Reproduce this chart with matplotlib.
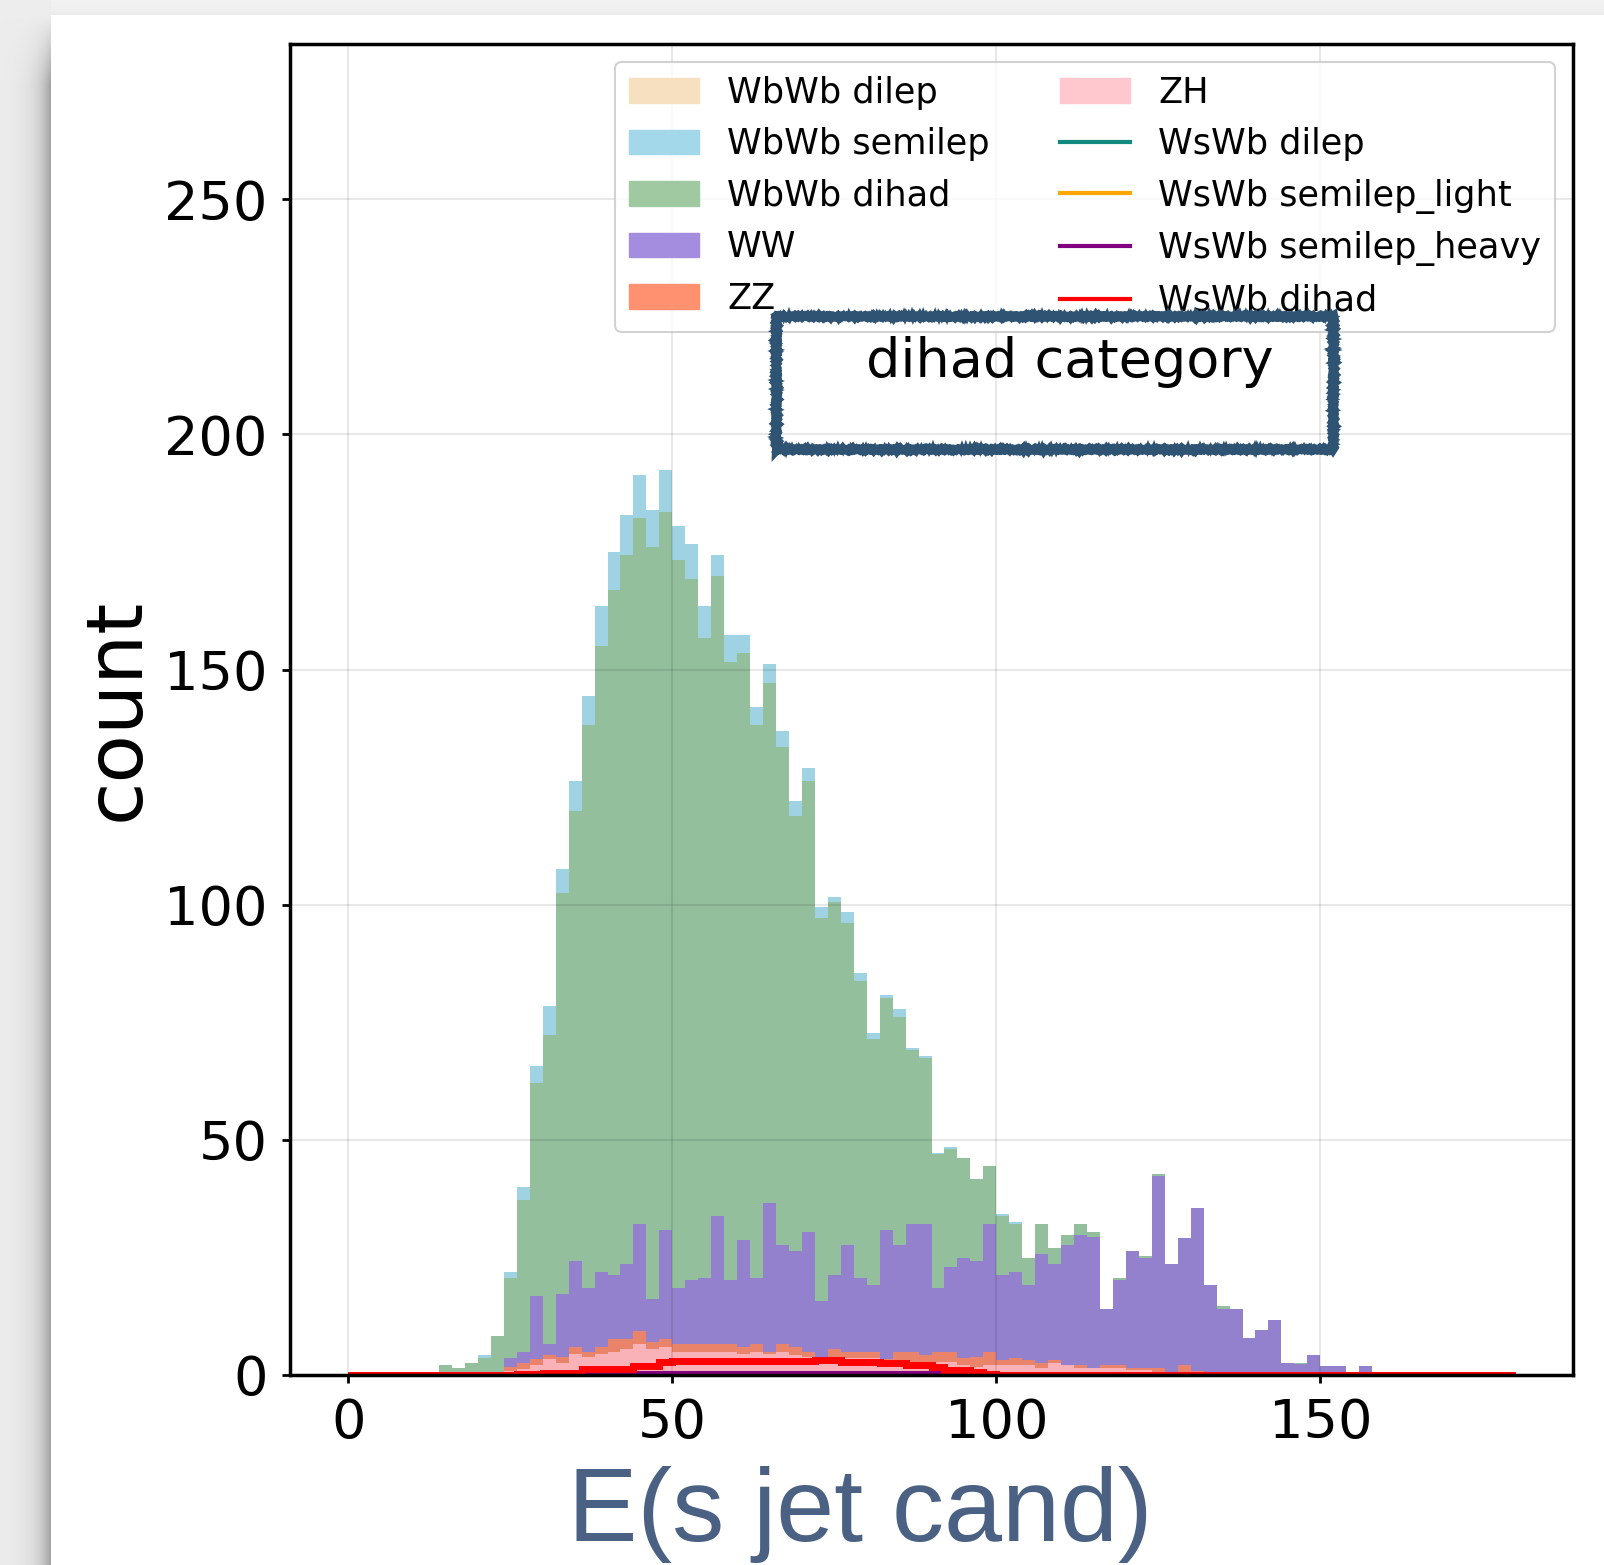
import matplotlib
matplotlib.use("Agg")
import matplotlib.pyplot as plt
from matplotlib.patches import Patch
from matplotlib.lines import Line2D
import numpy as np

# 90 bins of 2 GeV between 0 and 180
bin_edges = np.linspace(0, 180, 91)

# stacked backgrounds, counts per bin
zh = [0, 0, 0, 0, 0, 0, 0, 0, 0, 0,
      0, 0, 0.9, 1.3, 2.2, 3.3, 2.6, 4.5, 3.8, 4.5,
      4.9, 5.6, 6.5, 5.6, 5.9, 4.9, 4.9, 4.9, 4.9, 4.9,
      4.4, 4.9, 4.4, 4.9, 4.2, 3.8, 3.6, 3.6, 3.6, 3.6,
      3.6, 3.2, 3.2, 2.8, 2.8, 2.8, 2.8, 2.1, 1.8, 2.1,
      2.1, 2.1, 2.1, 1.5, 2.6, 2.1, 1.5, 1.4, 1.4, 1.4,
      1.0, 1.0, 0, 0, 0, 0, 0, 0, 0, 0,
      0, 0, 0, 0, 0, 0, 0, 0, 0, 0,
      0, 0, 0, 0, 0, 0, 0, 0, 0, 0]
zz = [0, 0, 0, 0, 0, 0, 0, 0, 0, 0,
      0, 0, 0.7, 1.2, 1.1, 1.0, 1.2, 1.4, 1.1, 1.4,
      2.8, 2.1, 2.8, 1.4, 1.8, 1.6, 1.6, 1.6, 1.6, 1.6,
      1.5, 1.6, 0.5, 1.6, 1.7, 1.1, 0.3, 1.9, 1.2, 1.2,
      1.2, 0.3, 1.6, 2.0, 1.4, 2.0, 2.0, 1.5, 2.0, 2.8,
      1.1, 1.6, 1.1, 1.1, 0.6, 0.0, 0.6, 0.1, 0.7, 0.7,
      0.5, 0.5, 1.5, 0.4, 2.1, 0.8, 0, 0, 0, 0,
      0, 0, 0, 0, 0, 0, 0, 0, 0, 0,
      0, 0, 0, 0, 0, 0, 0, 0, 0, 0]
ww = [0, 0, 0, 0, 0, 0, 0, 0, 0, 0,
      0, 0, 2.1, 2.4, 13.4, 2.2, 13.5, 18.3, 13.6, 16.0,
      13.5, 15.8, 22.8, 9.2, 23.2, 12.0, 13.6, 14.2, 27.3, 13.6,
      22.8, 14.2, 31.7, 21.1, 20.5, 25.4, 11.8, 15.7, 22.8, 15.9,
      14.3, 27.4, 22.8, 27.3, 27.9, 13.7, 18.2, 21.2, 20.4, 27.2,
      18.0, 18.2, 15.9, 23.2, 20.5, 25.5, 27.6, 27.9, 12.0, 18.2,
      24.9, 23.4, 40.8, 23.1, 27.1, 34.7, 19.1, 14.1, 14.0, 7.8,
      9.5, 11.7, 2.6, 2.3, 4.3, 2.0, 2.0, 0, 2.0, 0,
      0, 0, 0, 0, 0, 0, 0, 0, 0, 0]
wbwb_dihad = [0, 0, 0, 0, 0, 0, 0, 2.1, 1.4, 2.6,
              3.7, 8.3, 16.9, 32.4, 45.4, 65.8, 85.1, 95.8, 119.6, 133.2,
              145.8, 150.9, 150.2, 159.9, 152.6, 154.8, 149.2, 136.1, 136.1, 131.6,
              124.8, 117.4, 110.6, 106.0, 92.5, 95.9, 81.4, 79.4, 68.6, 63.1,
              52.4, 49.2, 48.6, 37.0, 35.2, 28.4, 25.1, 21.3, 17.5, 12.4,
              12.6, 10.3, 5.7, 6.3, 3.3, 2.1, 2.4, 1.0, 0, 0.4,
              0, 0.4, 0.5, 0, 0, 0, 0, 0.6, 0, 0,
              0, 0, 0, 0.3, 0, 0, 0, 0, 0, 0,
              0, 0, 0, 0, 0, 0, 0, 0, 0, 0]
wbwb_semilep = [0, 0, 0, 0, 0, 0, 0, 0, 0, 0,
                0.6, 0, 1.3, 2.7, 3.6, 6.2, 5.1, 6.2, 6.2, 8.5,
                7.9, 8.5, 9.1, 7.9, 9.0, 7.3, 7.4, 6.8, 4.5, 5.7,
                3.9, 3.9, 3.9, 3.3, 3.2, 2.8, 2.5, 1.1, 2.2, 1.6,
                1.3, 0.7, 1.7, 0.5, 0.6, 0.4, 0.4, 0, 0, 0,
                0.4, 0.4, 0, 0, 0, 0, 0, 0, 0, 0,
                0, 0, 0, 0, 0, 0, 0, 0, 0, 0,
                0, 0, 0, 0, 0, 0, 0, 0, 0, 0,
                0, 0, 0, 0, 0, 0, 0, 0, 0, 0]
wbwb_dilep = [0] * 90

# signal samples, drawn as outlines
wswb_dilep = [0] * 90
wswb_semilep_light = [0] * 90
wswb_semilep_heavy = [0, 0, 0, 0, 0, 0, 0, 0, 0, 0,
                      0, 0, 0, 0, 0, 0, 0, 0, 0.2, 0.2,
                      0.2, 0.2, 0.2, 0.2, 0.2, 0.2, 0.2, 0.2, 0.2, 0.2,
                      0.2, 0.2, 0.2, 0.2, 0.2, 0.2, 0.2, 0.2, 0.2, 0.2,
                      0.2, 0.2, 0.2, 0.2, 0.2, 0.2, 0.2, 0.2, 0.2, 0,
                      0, 0, 0, 0, 0, 0, 0, 0, 0, 0,
                      0, 0, 0, 0, 0, 0, 0, 0, 0, 0,
                      0, 0, 0, 0, 0, 0, 0, 0, 0, 0,
                      0, 0, 0, 0, 0, 0, 0, 0, 0, 0]
wswb_dihad = [0, 0, 0, 0, 0, 0, 0, 0, 0, 0,
              0, 0, 0.1, 0.2, 0.3, 0.5, 0.5, 0.5, 1.2, 1.2,
              1.2, 1.2, 2.0, 2.0, 2.8, 3.0, 3.0, 3.0, 3.0, 3.0,
              3.0, 3.0, 3.0, 3.0, 3.0, 3.0, 3.1, 3.1, 2.8, 2.8,
              2.8, 2.5, 2.5, 2.2, 2.2, 1.6, 1.1, 1.1, 0.6, 0.2,
              0, 0, 0, 0, 0, 0, 0, 0, 0, 0,
              0, 0, 0, 0, 0, 0, 0, 0, 0, 0,
              0, 0, 0, 0, 0, 0, 0, 0, 0, 0,
              0, 0, 0, 0, 0, 0, 0, 0, 0, 0]

W, H = 1604, 1565
fig = plt.figure(figsize=(W / 100, H / 100), dpi=100)

# slide background with the panel shadow on the left
bg = fig.add_axes([0, 0, 1, 1], zorder=-10)
yy, xx = np.mgrid[0:H, 0:W]
img = np.full((H, W), 0.95)
fade = np.clip((yy - 15) / 70.0, 0, 1)
shadow = 0.93 - 0.32 * np.exp(-(51 - xx) / 12.0) * fade
img = np.where(xx < 51, shadow, img)
img = np.where((yy < 15) & (xx >= 51), 0.95 - 0.04 * np.exp(-(15 - yy) / 4.0), img)
img = np.where((xx >= 51) & (yy >= 15), 1.0, img)
bg.imshow(np.dstack([img] * 3), extent=[0, W, H, 0], aspect="auto")
bg.set_xlim(0, W)
bg.set_ylim(H, 0)
bg.axis("off")

ax = fig.add_axes([290 / W, 1 - 1375 / H, 1283 / W, 1331 / H])

stack = [
    (zh, "#f8b2b8"),
    (zz, "#e9846a"),
    (ww, "#9481cd"),
    (wbwb_dihad, "#93bf9c"),
    (wbwb_semilep, "#9fd3e4"),
    (wbwb_dilep, "#f3dcb6"),
]
bottom = np.zeros(90)
for vals, col in stack:
    top = bottom + np.array(vals)
    ax.stairs(top, bin_edges, baseline=bottom, fill=True, color=col, lw=0)
    bottom = top

line_samples = [
    (wswb_dilep, "#138a80"),
    (wswb_semilep_light, "#ffa500"),
    (wswb_semilep_heavy, "#800080"),
    (wswb_dihad, "#ff0000"),
]
for vals, col in line_samples:
    ax.stairs(vals, bin_edges, color=col, lw=5)

ax.set_xlim(-9, 189)
ax.set_ylim(0, 283)
ax.set_xticks([0, 50, 100, 150])
ax.set_yticks([0, 50, 100, 150, 200, 250])
ax.tick_params(labelsize=39, length=6, width=2, pad=10)
for sp in ax.spines.values():
    sp.set_linewidth(2.5)
ax.grid(True, color="k", alpha=0.09, lw=1.5)
ax.set_axisbelow(False)
ax.set_ylabel("count", fontsize=57, labelpad=7)

handles = [
    Patch(color="#f6e0c0", label="WbWb dilep"),
    Patch(color="#a3d7ea", label="WbWb semilep"),
    Patch(color="#a0c9a2", label="WbWb dihad"),
    Patch(color="#a48ddf", label="WW"),
    Patch(color="#ff9070", label="ZZ"),
    Patch(color="#ffc8cf", label="ZH"),
    Line2D([], [], color="#138a80", lw=3, label="WsWb dilep"),
    Line2D([], [], color="#ffa500", lw=3, label="WsWb semilep_light"),
    Line2D([], [], color="#800080", lw=3, label="WsWb semilep_heavy"),
    Line2D([], [], color="#ff0000", lw=3, label="WsWb dihad"),
]
leg = ax.legend(handles=handles, ncol=2, loc="upper right", fontsize=25.3)
leg.get_frame().set_linewidth(1.5)
leg.get_frame().set_edgecolor("0.78")

# hand drawn call-out on top of everything
fg = fig.add_axes([0, 0, 1, 1], zorder=20)
fg.set_xlim(0, W)
fg.set_ylim(H, 0)
fg.axis("off")
fg.patch.set_alpha(0)
fg.text(1070, 377, "dihad category", fontsize=39, ha="center", va="baseline")
bx = [776, 1333, 1333, 776, 776]
by = [316, 316, 449, 449, 316]
for lw, sk in [(6.5, (0.8, 4, 2)), (4.0, (1.4, 2, 3)), (1.8, (1.9, 2, 4))]:
    ln, = fg.plot(bx, by, color="#2f5373", lw=lw, solid_joinstyle="miter")
    ln.set_sketch_params(*sk)

fig.text(860 / W, 24 / H, "E(s jet cand)", family="Liberation Sans",
         fontsize=75, color="#4a6183", ha="center", va="baseline")

fig.savefig("out.png", dpi=100)
